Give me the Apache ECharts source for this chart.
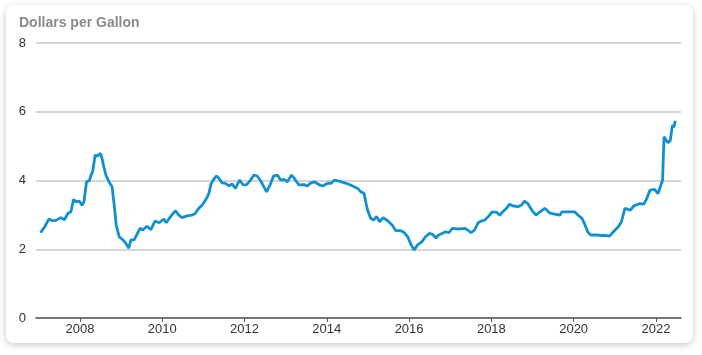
<!DOCTYPE html>
<html>
<head>
<meta charset="utf-8">
<script src="https://cdn.jsdelivr.net/npm/echarts@6/dist/echarts.min.js"></script>
<style>
  html, body { margin: 0; padding: 0; background: #fff; }
  .card {
    position: absolute;
    left: 6px;
    top: 5px;
    width: 687px;
    height: 338px;
    background: #fff;
    border-radius: 8px;
    box-shadow: 0 2px 7px rgba(0, 0, 0, 0.22);
  }
  #chart {
    position: absolute;
    left: 0;
    top: 0;
    width: 702px;
    height: 355px;
  }
</style>
</head>
<body>
<div class="card"></div>
<div id="chart"></div>
<script>
// weekly-ish diesel price readings, dollars per gallon
const dates = [
  '2007-01-15', '2007-02-15', '2007-04-01', '2007-05-01', '2007-06-01', '2007-07-15', '2007-08-15', '2007-09-15',
  '2007-10-12', '2007-11-05', '2007-11-25', '2007-12-25', '2008-01-20', '2008-02-05', '2008-02-28', '2008-03-25',
  '2008-04-08', '2008-04-22', '2008-05-15', '2008-06-05', '2008-07-01', '2008-07-15', '2008-08-03', '2008-08-18',
  '2008-09-15', '2008-10-12', '2008-11-02', '2008-11-18', '2008-12-15', '2009-01-18', '2009-02-12', '2009-03-10',
  '2009-03-28', '2009-04-25', '2009-05-18', '2009-06-18', '2009-07-12', '2009-08-18', '2009-09-22', '2009-10-28',
  '2009-12-05', '2010-01-15', '2010-02-05', '2010-03-15', '2010-04-28', '2010-05-28', '2010-06-25', '2010-08-08',
  '2010-09-20', '2010-10-20', '2010-11-20', '2010-12-20', '2011-01-20', '2011-02-18', '2011-03-10', '2011-04-01',
  '2011-04-27', '2011-05-15', '2011-06-15', '2011-07-15', '2011-08-15', '2011-09-12', '2011-10-12', '2011-11-18',
  '2011-12-20', '2012-01-20', '2012-02-18', '2012-03-25', '2012-04-22', '2012-05-22', '2012-06-20', '2012-07-15',
  '2012-08-15', '2012-09-15', '2012-10-20', '2012-11-18', '2012-12-18', '2013-01-15', '2013-02-22', '2013-03-25',
  '2013-04-28', '2013-06-12', '2013-07-12', '2013-08-12', '2013-09-15', '2013-10-22', '2013-11-25', '2014-01-08',
  '2014-02-08', '2014-03-08', '2014-04-20', '2014-06-01', '2014-07-15', '2014-09-01', '2014-10-01', '2014-10-30',
  '2014-11-28', '2014-12-12', '2014-12-28', '2015-01-25', '2015-02-20', '2015-03-18', '2015-04-15', '2015-05-15',
  '2015-06-25', '2015-08-05', '2015-09-05', '2015-10-20', '2015-11-20', '2015-12-20', '2016-01-20', '2016-02-15',
  '2016-03-15', '2016-04-25', '2016-05-28', '2016-07-01', '2016-07-30', '2016-08-28', '2016-09-12', '2016-10-20',
  '2016-11-20', '2016-12-20', '2017-01-20', '2017-02-25', '2017-04-10', '2017-05-08', '2017-06-05', '2017-07-05',
  '2017-08-05', '2017-09-05', '2017-10-05', '2017-11-05', '2017-12-10', '2018-01-08', '2018-02-20', '2018-03-15',
  '2018-04-12', '2018-05-15', '2018-06-12', '2018-07-12', '2018-08-25', '2018-09-25', '2018-10-22', '2018-11-20',
  '2018-12-25', '2019-02-01', '2019-03-08', '2019-04-20', '2019-06-01', '2019-07-15', '2019-09-01', '2019-09-20',
  '2019-11-25', '2020-01-10', '2020-02-10', '2020-03-15', '2020-04-12', '2020-05-05', '2020-06-01', '2020-07-15',
  '2020-09-01', '2020-10-15', '2020-11-15', '2020-12-20', '2021-02-05', '2021-03-01', '2021-04-01', '2021-05-20',
  '2021-06-18', '2021-08-15', '2021-09-15', '2021-10-08', '2021-11-10', '2021-12-20', '2022-01-20', '2022-02-05',
  '2022-03-01', '2022-03-07', '2022-03-14', '2022-04-18', '2022-05-08', '2022-05-28', '2022-06-10', '2022-06-22'
];
const prices = [
  2.48, 2.62, 2.88, 2.83, 2.84, 2.92, 2.86, 3.04,
  3.09, 3.45, 3.38, 3.40, 3.28, 3.38, 3.96, 4.00,
  4.16, 4.25, 4.74, 4.71, 4.79, 4.64, 4.35, 4.16,
  3.96, 3.82, 3.24, 2.70, 2.36, 2.27, 2.17, 2.03,
  2.27, 2.27, 2.41, 2.61, 2.56, 2.67, 2.57, 2.82,
  2.77, 2.88, 2.77, 2.95, 3.12, 2.99, 2.92, 2.97,
  2.99, 3.04, 3.19, 3.28, 3.43, 3.62, 3.90, 4.03,
  4.13, 4.08, 3.93, 3.92, 3.84, 3.90, 3.77, 4.01,
  3.87, 3.88, 3.99, 4.16, 4.13, 4.00, 3.82, 3.67,
  3.87, 4.13, 4.16, 4.01, 4.03, 3.96, 4.16, 4.03,
  3.87, 3.88, 3.84, 3.93, 3.96, 3.88, 3.84, 3.92,
  3.92, 4.01, 3.98, 3.94, 3.89, 3.82, 3.77, 3.67,
  3.62, 3.38, 3.14, 2.90, 2.85, 2.95, 2.80, 2.92,
  2.83, 2.70, 2.54, 2.54, 2.48, 2.36, 2.12, 1.98,
  2.12, 2.22, 2.37, 2.46, 2.43, 2.32, 2.40, 2.46,
  2.51, 2.48, 2.61, 2.59, 2.59, 2.61, 2.56, 2.48,
  2.56, 2.77, 2.82, 2.85, 2.97, 3.09, 3.07, 2.99,
  3.09, 3.19, 3.31, 3.26, 3.24, 3.28, 3.40, 3.33,
  3.14, 2.99, 3.09, 3.19, 3.06, 3.02, 2.99, 3.09,
  3.09, 3.09, 2.99, 2.90, 2.70, 2.51, 2.41, 2.42,
  2.40, 2.40, 2.38, 2.51, 2.67, 2.80, 3.19, 3.14,
  3.26, 3.33, 3.31, 3.45, 3.72, 3.74, 3.62, 3.60,
  4.01, 4.06, 5.27, 5.10, 5.16, 5.61, 5.55, 5.74
];
const yearTicks = [2008, 2010, 2012, 2014, 2016, 2018, 2020, 2022];

// date string -> fractional year so the x axis can be a plain value axis
function toYear(s) {
  const d = new Date(s + 'T00:00:00Z');
  const y = d.getUTCFullYear();
  const start = Date.UTC(y, 0, 1);
  const end = Date.UTC(y + 1, 0, 1);
  return y + (d.getTime() - start) / (end - start);
}

const seriesData = dates.map((d, i) => [toYear(d), prices[i]]);

const chart = echarts.init(document.getElementById('chart'), null, { renderer: 'canvas' });
chart.setOption({
  backgroundColor: 'transparent',
  animation: false,
  textStyle: { fontFamily: 'Liberation Sans, Arial, sans-serif' },
  title: {
    text: 'Dollars per Gallon',
    left: 19,
    top: 16,
    padding: 0,
    textStyle: {
      fontFamily: 'Liberation Sans, Arial, sans-serif',
      fontSize: 14,
      fontWeight: 'bold',
      color: '#8a8a8a'
    }
  },
  grid: {
    left: 36,
    right: 21,
    top: 43,
    bottom: 37,
    containLabel: false
  },
  xAxis: {
    type: 'value',
    min: 2006.93,
    max: 2022.61,
    splitLine: { show: false },
    axisLine: {
      show: true,
      onZero: false,
      lineStyle: { color: '#5a5a5a', width: 1.5 }
    },
    axisTick: {
      show: true,
      length: 4,
      customValues: yearTicks,
      lineStyle: { color: '#5a5a5a', width: 1 }
    },
    axisLabel: {
      customValues: yearTicks,
      color: '#333',
      fontSize: 13,
      margin: 5,
      formatter: (v) => String(v)
    }
  },
  yAxis: {
    type: 'value',
    min: 0,
    max: 8,
    interval: 2,
    axisLine: { show: false },
    axisTick: { show: false },
    axisLabel: {
      color: '#333',
      fontSize: 13,
      margin: 10
    },
    splitLine: {
      show: true,
      lineStyle: { color: '#c8c8c8', width: 1.5 }
    }
  },
  series: [
    {
      type: 'line',
      data: seriesData,
      showSymbol: false,
      smooth: false,
      lineStyle: { color: '#1190d0', width: 2.8 },
      itemStyle: { color: '#1190d0' }
    }
  ]
});
</script>
</body>
</html>
